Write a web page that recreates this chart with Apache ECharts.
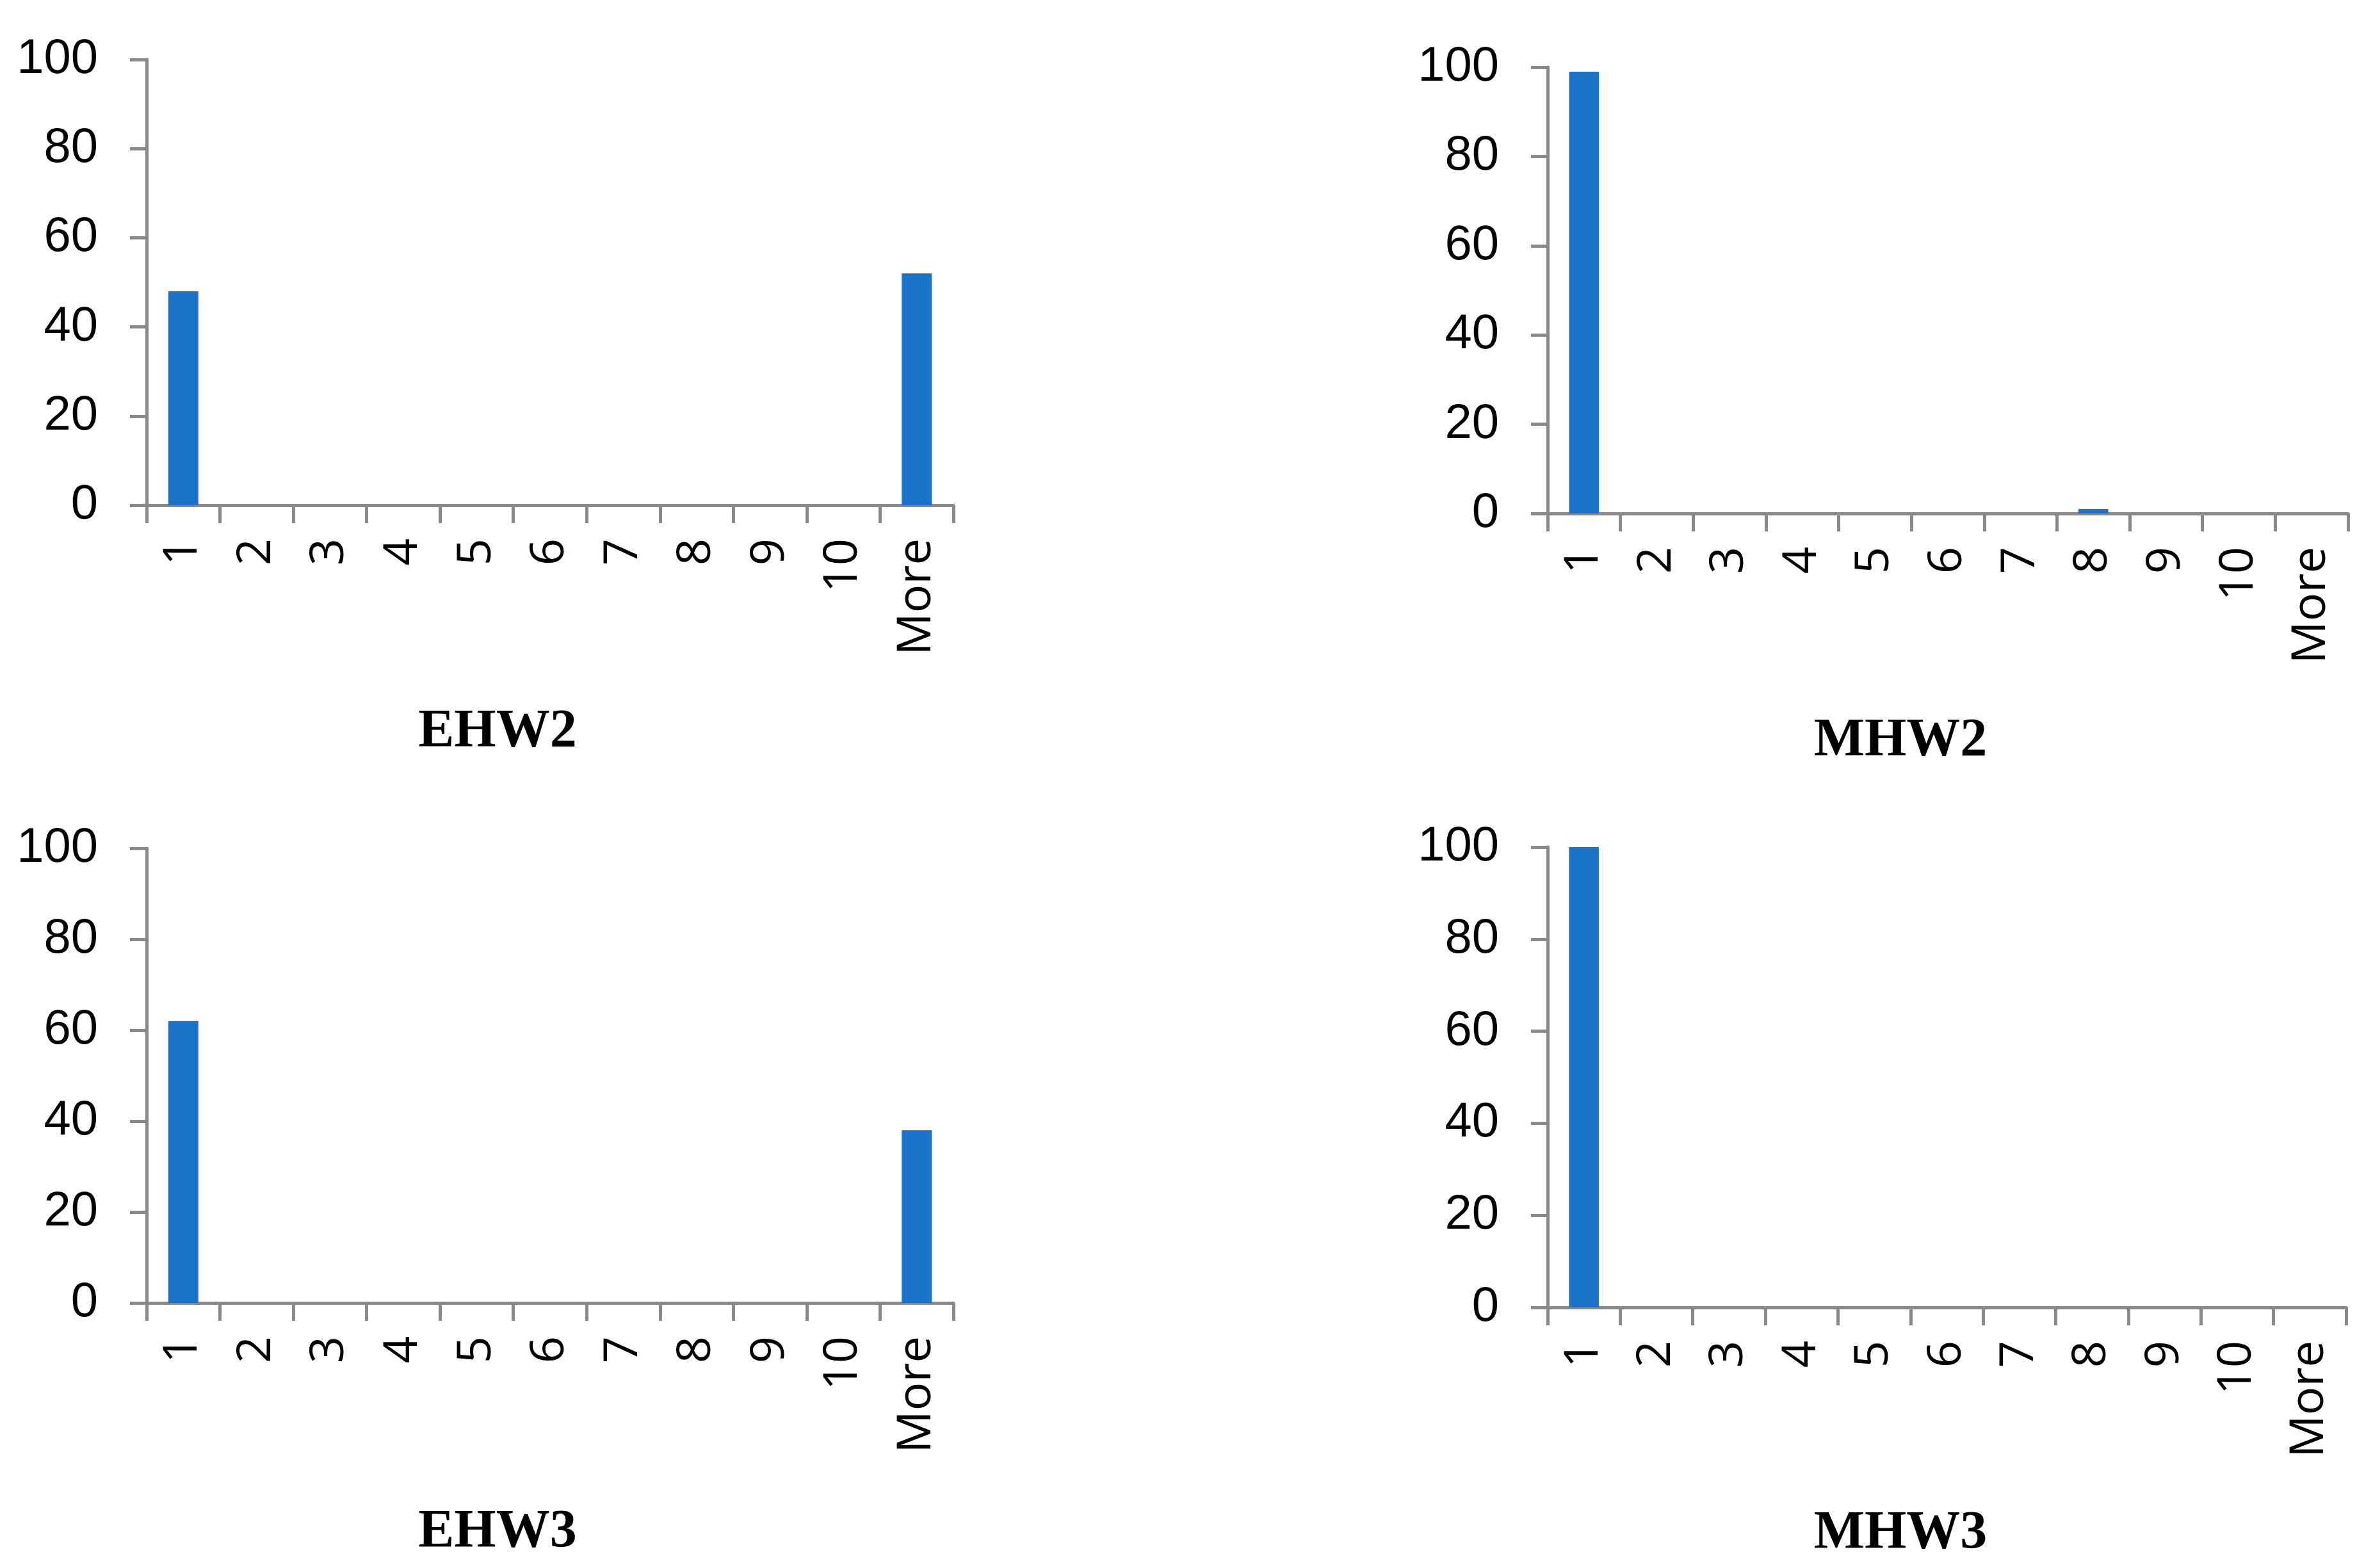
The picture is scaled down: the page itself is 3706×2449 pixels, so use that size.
<!DOCTYPE html>
<html>
<head>
<meta charset="utf-8">
<script src="https://cdn.jsdelivr.net/npm/echarts@6/dist/echarts.min.js"></script>
<style>html,body{margin:0;padding:0;background:#fff}#c{width:3706px;height:2449px}</style>
</head>
<body>
<div id="c"></div>
<script>
const categories = ['1','2','3','4','5','6','7','8','9','10','More'];
const ehw2 = [48,0,0,0,0,0,0,0,0,0,52];
const mhw2 = [99,0,0,0,0,0,0,1,0,0,0];
const ehw3 = [62,0,0,0,0,0,0,0,0,0,38];
const mhw3 = [100,0,0,0,0,0,0,0,0,0,0];
const yTicks = [0,20,40,60,80,100];
const panelTitles = ['EHW2','MHW2','EHW3','MHW3'];
const panelData = [ehw2, mhw2, ehw3, mhw3];

const grids = [
  {left:229, top:93, right:2217, bottom:1660},
  {left:2417, top:105, right:39, bottom:1647},
  {left:229, top:1325, right:2217, bottom:414},
  {left:2417, top:1323, right:42, bottom:2449-2042}
];
const titlePos = [[777,1102],[2968,1116],[777,2352],[2968,2354]];
const axisColor = '#898989';

const option = {
  backgroundColor:'#fff',
  animation:false,
  title: panelTitles.map((t,i)=>({
    text:t, left:titlePos[i][0], top:titlePos[i][1], textAlign:'center', padding:0,
    textStyle:{fontFamily:'Liberation Serif', fontWeight:'bold', fontSize:84, lineHeight:84, color:'#000'}
  })),
  grid: grids.map(g=>Object.assign({containLabel:false}, g)),
  xAxis: grids.map((g,i)=>({
    type:'category', gridIndex:i, data:categories, boundaryGap:true,
    axisLine:{show:true, lineStyle:{color:axisColor, width:5}},
    axisTick:{show:true, length:28, interval:0, lineStyle:{color:axisColor, width:5}},
    axisLabel:{interval:0, rotate:90, margin:52, fontFamily:'Open Sans', fontSize:74, color:'#000'},
    splitLine:{show:false}
  })),
  yAxis: grids.map((g,i)=>({
    type:'value', gridIndex:i, min:yTicks[0], max:yTicks[yTicks.length-1], interval:20,
    axisLine:{show:true, lineStyle:{color:axisColor, width:5}},
    axisTick:{show:true, length:26, lineStyle:{color:axisColor, width:5}},
    axisLabel:{margin:76, fontFamily:'Liberation Sans', fontSize:76, color:'#000'},
    splitLine:{show:false}
  })),
  series: panelData.map((d,i)=>({
    type:'bar', xAxisIndex:i, yAxisIndex:i, data:d, barWidth:'41%',
    itemStyle:{color:'#1a73c8'}
  }))
};
echarts.init(document.getElementById('c')).setOption(option);
</script>
</body>
</html>
